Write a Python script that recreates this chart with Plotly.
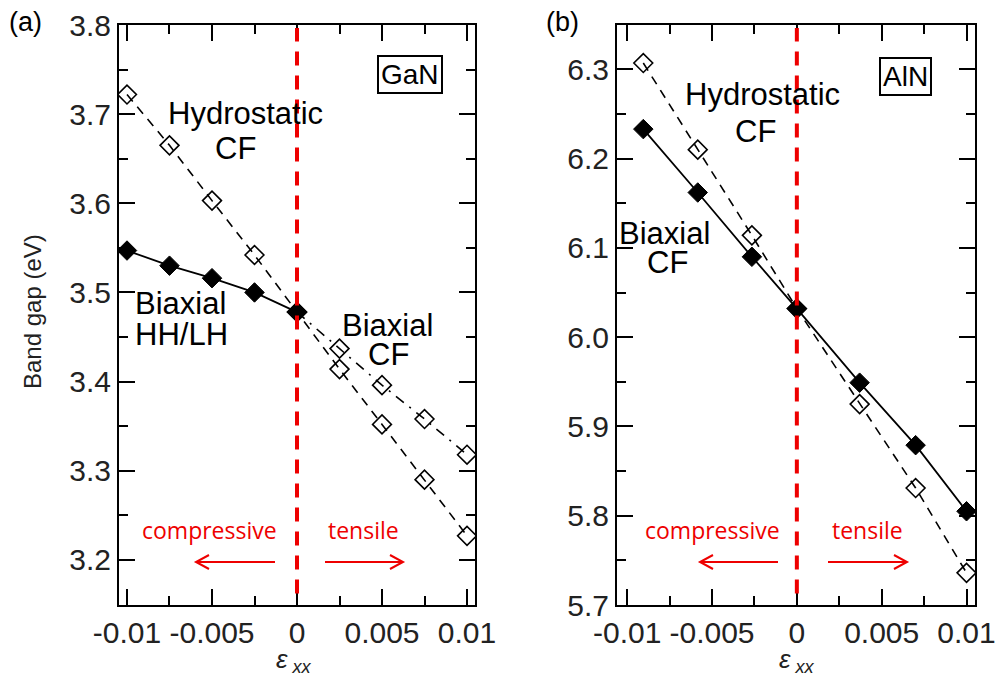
import plotly.graph_objects as go

# ---------------- data ----------------
# Panel (a) GaN
a_x_biax_hhlh = [-0.01, -0.0075, -0.005, -0.0025, 0.0]
a_y_biax_hhlh = [3.547, 3.530, 3.516, 3.500, 3.478]
a_x_hydro = [-0.01, -0.0075, -0.005, -0.0025, 0.0, 0.0025, 0.005, 0.0075, 0.01]
a_y_hydro = [3.722, 3.665, 3.603, 3.542, 3.478, 3.414, 3.352, 3.290, 3.227]
a_x_biax_cf = [0.0, 0.0025, 0.005, 0.0075, 0.01]
a_y_biax_cf = [3.478, 3.437, 3.396, 3.358, 3.318]

# Panel (b) AlN
b_x = [-0.00905, -0.00584, -0.00265, 0.0, 0.0037, 0.0070, 0.0100]
b_y_biax_cf = [6.233, 6.162, 6.090, 6.032, 5.949, 5.879, 5.805]
b_y_hydro = [6.307, 6.210, 6.114, 6.032, 5.925, 5.831, 5.736]

x_tickvals = [-0.01, -0.005, 0, 0.005, 0.01]
x_ticktext = ["-0.01", "-0.005", "0", "0.005", "0.01"]
a_y_ticks = [3.2, 3.3, 3.4, 3.5, 3.6, 3.7, 3.8]
b_y_ticks = [5.7, 5.8, 5.9, 6.0, 6.1, 6.2, 6.3]

W, H = 997, 679
FONT = "Liberation Sans, Arial, sans-serif"
RED_FONT = "Open Sans, sans-serif"


def px(x):
    return x / W


def py(y):
    return 1 - y / H


fig = go.Figure()

filled = dict(symbol="diamond", size=15, color="black", line=dict(color="black", width=1))
openm = dict(symbol="diamond-open", size=14.5, color="black", line=dict(color="black", width=1.6))

# (a)
fig.add_trace(go.Scatter(x=a_x_hydro, y=a_y_hydro, mode="lines+markers", xaxis="x", yaxis="y",
                         line=dict(color="black", width=1.6, dash="9px,7px"), marker=openm))
fig.add_trace(go.Scatter(x=a_x_biax_cf, y=a_y_biax_cf, mode="lines+markers", xaxis="x", yaxis="y",
                         line=dict(color="black", width=1.6, dash="10px,7px,2px,7px"), marker=openm))
fig.add_trace(go.Scatter(x=a_x_biax_hhlh, y=a_y_biax_hhlh, mode="lines+markers", xaxis="x", yaxis="y",
                         line=dict(color="black", width=1.8), marker=filled))
# (b)
fig.add_trace(go.Scatter(x=b_x, y=b_y_hydro, mode="lines+markers", xaxis="x2", yaxis="y2",
                         line=dict(color="black", width=1.6, dash="9px,7px"), marker=openm))
fig.add_trace(go.Scatter(x=b_x, y=b_y_biax_cf, mode="lines+markers", xaxis="x2", yaxis="y2",
                         line=dict(color="black", width=1.8), marker=filled))

ydom = [py(605), py(25)]
axis_common = dict(showline=True, linecolor="black", linewidth=2, mirror="allticks",
                   ticks="inside", ticklen=16, tickwidth=1.8, tickcolor="black",
                   showgrid=False, zeroline=False, automargin=False,
                   tickfont=dict(family=FONT, size=30, color="#222"))
minor_x = dict(dtick=0.0025, tick0=0, ticks="inside", ticklen=9, tickwidth=1.8, tickcolor="black")
minor_y = dict(dtick=0.05, tick0=0, ticks="inside", ticklen=9, tickwidth=1.8, tickcolor="black")

fig.update_layout(
    width=W, height=H, margin=dict(l=0, r=0, t=0, b=0, autoexpand=False),
    paper_bgcolor="white", plot_bgcolor="white", showlegend=False,
    xaxis=dict(domain=[px(119), px(475)], range=[-0.01047, 0.01047], anchor="y",
               tickvals=x_tickvals, ticktext=x_ticktext, minor=minor_x, **axis_common),
    yaxis=dict(domain=ydom, range=[3.1494, 3.8], anchor="x",
               tickvals=a_y_ticks, ticktext=[f"{v:.1f}" for v in a_y_ticks], minor=minor_y,
               **axis_common),
    xaxis2=dict(domain=[px(617), px(975)], range=[-0.0106, 0.0105], anchor="y2",
                tickvals=x_tickvals, ticktext=x_ticktext, minor=minor_x, **axis_common),
    yaxis2=dict(domain=ydom, range=[5.7, 6.3496], anchor="x2",
                tickvals=b_y_ticks, ticktext=[f"{v:.1f}" for v in b_y_ticks], minor=minor_y,
                **axis_common),
)

# red dashed vertical lines at zero strain
RED = "#ee0000"
for xr, yr in (("x", "y domain"), ("x2", "y2 domain")):
    fig.add_shape(type="line", xref=xr, yref=yr, x0=0, x1=0, y0=0.02, y1=0.995,
                  line=dict(color=RED, width=4, dash="14px,10px"))


# red arrows (open V heads)
def arrow(x_tail, x_tip, y):
    d = 1 if x_tip > x_tail else -1
    hl, hw = 13, 7
    path = (f"M {px(x_tail)},{py(y)} L {px(x_tip)},{py(y)} "
            f"M {px(x_tip - d*hl)},{py(y - hw)} L {px(x_tip)},{py(y)} L {px(x_tip - d*hl)},{py(y + hw)}")
    fig.add_shape(type="path", xref="paper", yref="paper", path=path,
                  line=dict(color=RED, width=2))


arrow(275, 196, 562)
arrow(325, 403, 562)
arrow(778, 700, 562)
arrow(828, 907, 562)


def text(x, y, s, size=31, color="black", family=FONT, angle=0, **kw):
    fig.add_annotation(x=px(x), y=py(y), xref="paper", yref="paper", text=s, showarrow=False,
                       font=dict(family=family, size=size, color=color), textangle=angle,
                       xanchor="center", yanchor="middle", **kw)


# red labels
text(209, 530, "compressive", size=23, color=RED, family=RED_FONT)
text(363, 530, "tensile", size=23, color=RED, family=RED_FONT)
text(712, 530, "compressive", size=23, color=RED, family=RED_FONT)
text(867, 530, "tensile", size=23, color=RED, family=RED_FONT)

# panel (a) labels
text(245, 114, "Hydrostatic")
text(235, 148, "CF")
text(180, 303, "Biaxial")
text(181, 334, "HH/LH")
text(387, 325, "Biaxial")
text(388, 354, "CF")
text(410, 74, "GaN", size=28, bordercolor="black", borderwidth=2, borderpad=2, bgcolor="white")
text(25, 22, "(a)", size=27)

# panel (b) labels
text(762, 95, "Hydrostatic")
text(755, 132, "CF")
text(664, 233, "Biaxial")
text(667, 263, "CF")
text(905, 76, "AlN", size=28, bordercolor="black", borderwidth=2, borderpad=2, bgcolor="white")
text(562, 22, "(b)", size=27)

# axis titles
text(33, 312, "Band gap (eV)", size=24, color="#222", angle=-90)
text(294, 660, "<i>ε</i><sub> <i>xx</i></sub>", size=26, color="#222")
text(797, 660, "<i>ε</i><sub> <i>xx</i></sub>", size=26, color="#222")

fig.write_html("out.html")
